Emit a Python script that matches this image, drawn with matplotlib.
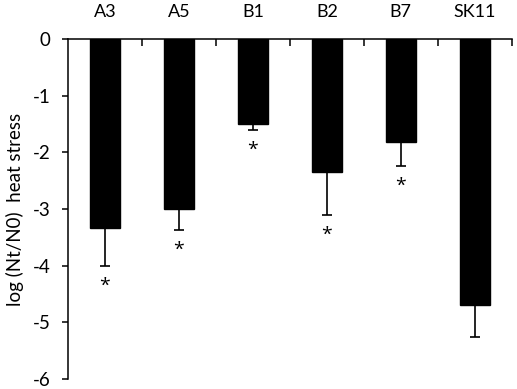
import numpy as np
import matplotlib.pyplot as plt

plt.rcParams['font.family'] = ['Lato', 'DejaVu Sans']
plt.rcParams['axes.unicode_minus'] = False

# Данные
strains = ['A3', 'A5', 'B1', 'B2', 'B7', 'SK11']
log_ratio = [-3.33, -3.0, -1.5, -2.34, -1.82, -4.69]
err_low = [0.67, 0.37, 0.11, 0.76, 0.42, 0.57]
significant = [True, True, True, True, True, False]

x = np.arange(len(strains))

fig = plt.figure(figsize=(5.17, 3.89), dpi=100)
ax = fig.add_axes([0.1315, 0.0257, 0.8585, 0.874])

ax.bar(x, log_ratio, width=0.4, color='black', edgecolor='black', zorder=2)
ax.errorbar(x, log_ratio, yerr=[err_low, np.zeros(len(x))], fmt='none',
            ecolor='black', elinewidth=1.2, capsize=3.6, capthick=1.2, zorder=1)

# Звёздочки под планками погрешностей
for xi, v, e, s in zip(x, log_ratio, err_low, significant):
    if s:
        ax.text(xi, v - e - 0.35, '*', ha='center', va='center',
                fontsize=14, family='Open Sans')

ax.set_xlim(-0.5, len(strains) - 0.5)
ax.set_ylim(-6, 0)
ax.set_yticks(np.arange(-6, 1, 1))
ax.tick_params(axis='y', direction='out', length=4.5, width=1.1, labelsize=13.5, pad=8)

# Подписи категорий сверху, засечки на границах
ax.xaxis.tick_top()
ax.set_xticks(x)
ax.set_xticklabels(strains)
ax.set_xticks(np.arange(0.5, len(strains), 1), minor=True)
ax.tick_params(axis='x', which='major', length=0, labelsize=13, pad=14)
ax.tick_params(axis='x', which='minor', direction='in', length=5, width=1.1)

for side in ['bottom', 'right']:
    ax.spines[side].set_visible(False)
for side in ['left', 'top']:
    ax.spines[side].set_linewidth(1.1)

ax.set_ylabel('log (Nt/N0)  heat stress', fontsize=13.5, labelpad=6)

fig.savefig('out.png', dpi=100)
